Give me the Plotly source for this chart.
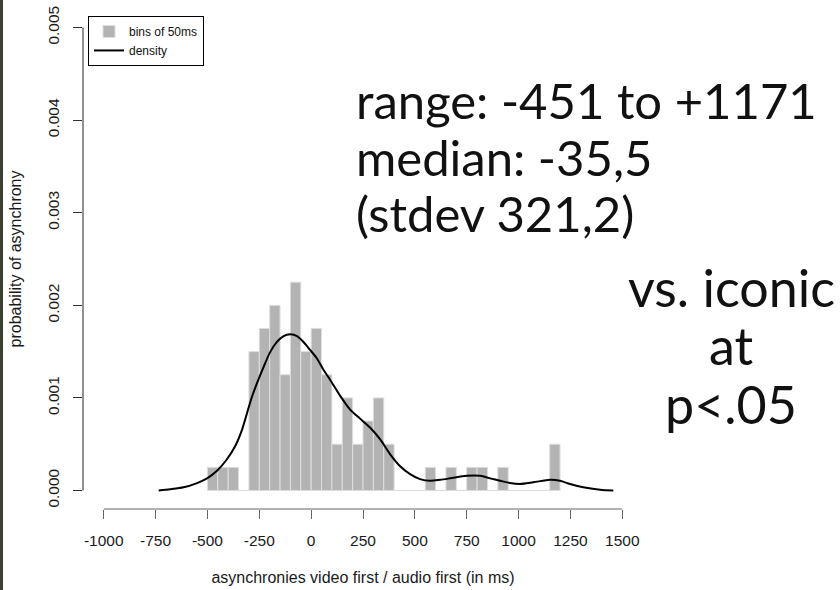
import plotly.graph_objects as go

# Histogram of asynchronies: bins of 50 ms (left edges) and counts per bin
bin_width = 50
bin_left = list(range(-500, 1200, 50))
bin_counts = [1, 1, 1, 0, 6, 7, 8, 5, 9, 6, 7, 5, 2, 4, 2, 3, 4, 2,
              0, 0, 0, 1, 0, 1, 0, 1, 1, 0, 1, 0, 0, 0, 0, 2]

# Kernel density estimate of the same asynchronies (ms, probability)
density_x = [-735, -679, -615, -550, -502, -454, -406, -366, -333, -309, -285,
             -261, -229, -197, -165, -133, -101, -68, -37, -4, 28, 60, 92, 140,
             188, 236, 285, 333, 381, 429, 477, 525, 574, 622, 670, 750, 815,
             863, 911, 959, 1007, 1071, 1152, 1200, 1248, 1312, 1393, 1457]
density_y = [0.0, 0.013, 0.034, 0.080, 0.130, 0.212, 0.337, 0.480, 0.658, 0.837,
             1.015, 1.160, 1.336, 1.497, 1.604, 1.668, 1.686, 1.668, 1.604, 1.515,
             1.426, 1.301, 1.194, 1.022, 0.873, 0.776, 0.677, 0.551, 0.391, 0.262,
             0.177, 0.123, 0.105, 0.116, 0.131, 0.158, 0.158, 0.131, 0.105, 0.080,
             0.070, 0.088, 0.116, 0.105, 0.070, 0.034, 0.009, 0.0]
density_y = [v / 1000 for v in density_y]

x_ticks = [-1000, -750, -500, -250, 0, 250, 500, 750, 1000, 1250, 1500]
y_ticks = [0.000, 0.001, 0.002, 0.003, 0.004, 0.005]
y_tick_text = ["0.000", "0.001", "0.002", "0.003", "0.004", "0.005"]

stats_lines = ["range: -451 to +1171", "median: -35,5", "(stdev 321,2)"]
test_lines = ["vs. iconic", "at", "p<.05"]

n_total = sum(bin_counts)
bin_density = [c / (n_total * bin_width) for c in bin_counts]
bin_centers = [b + bin_width / 2 for b in bin_left]

W, H = 840, 590
ML, MR, MT, MB = 83, 197, 6, 80
PW, PH = W - ML - MR, H - MT - MB


def px_x(x):
    return (x - ML) / PW


def px_y(y):
    return 1 - (y - MT) / PH


fig = go.Figure()

# light baseline under the histogram (empty bins)
fig.add_trace(go.Scatter(
    x=[bin_left[0], bin_left[-1] + bin_width], y=[0, 0], mode="lines",
    line=dict(color="#dcdcdc", width=1), showlegend=False, hoverinfo="skip"))

fig.add_trace(go.Bar(
    x=bin_centers, y=bin_density, width=bin_width,
    marker=dict(color="#b3b3b3", line=dict(color="#dedede", width=1)),
    name="bins of 50ms"))

fig.add_trace(go.Scatter(
    x=density_x, y=density_y, mode="lines", line_shape="spline",
    line=dict(color="black", width=2, smoothing=0.8), name="density"))

tick_font = dict(family="Liberation Sans, Arial, sans-serif", size=15.5, color="#1a1a1a")
title_font = dict(family="Liberation Sans, Arial, sans-serif", size=16, color="#1a1a1a")

fig.update_xaxes(
    range=[-1100, 1600], tickvals=x_ticks, ticktext=[str(v) for v in x_ticks],
    showgrid=False, zeroline=False, showline=False,
    ticks="outside", ticklen=9, tickcolor="#666666", tickwidth=1,
    tickfont=tick_font, ticklabelstandoff=8,
    title=dict(text="asynchronies video first / audio first (in ms)",
               font=title_font, standoff=24))
fig.update_yaxes(
    range=[-0.0002, 0.0052], tickvals=y_ticks, ticktext=y_tick_text,
    showgrid=False, zeroline=False, showline=False,
    ticks="outside", ticklen=9, tickcolor="#333333", tickwidth=1,
    tickangle=-90, tickfont=tick_font, ticklabelstandoff=8,
    title=dict(text="probability of asynchrony", font=title_font, standoff=19))

shapes = [
    # R-style axis lines spanning first to last tick
    dict(type="line", xref="x", yref="paper", x0=x_ticks[0], x1=x_ticks[-1],
         y0=0, y1=0, line=dict(color="#666666", width=1)),
    dict(type="line", xref="paper", yref="y", x0=0, x1=0,
         y0=y_ticks[0], y1=y_ticks[-1], line=dict(color="#222222", width=1)),
    # dark slide edge on the left
    dict(type="rect", xref="paper", yref="paper", x0=px_x(-2), x1=px_x(3),
         y0=px_y(H + 10), y1=px_y(-10), fillcolor="#3c4030", line=dict(width=0)),
]

annotations = []
big_font = dict(family="Lato, sans-serif", size=49, color="#111111")
right_font = dict(family="Lato, sans-serif", size=52, color="#111111")
for i, line in enumerate(stats_lines):
    annotations.append(dict(
        text=line, xref="paper", yref="paper", x=px_x(354), y=px_y(98 + 57 * i),
        xanchor="left", yanchor="middle", showarrow=False, font=big_font))
for i, line in enumerate(test_lines):
    annotations.append(dict(
        text=line, xref="paper", yref="paper", x=px_x(731), y=px_y(286 + 59 * i),
        xanchor="center", yanchor="middle", showarrow=False, font=right_font))

fig.update_layout(
    width=W, height=H, margin=dict(l=ML, r=MR, t=MT, b=MB),
    paper_bgcolor="white", plot_bgcolor="white",
    showlegend=True,
    legend=dict(x=px_x(88), y=px_y(13), xanchor="left", yanchor="top",
                bordercolor="black", borderwidth=1, bgcolor="white",
                font=dict(family="Liberation Sans, Arial, sans-serif", size=12,
                          color="#111111"),
                tracegroupgap=0, itemwidth=30),
    shapes=shapes, annotations=annotations,
)

fig.write_html("out.html")
